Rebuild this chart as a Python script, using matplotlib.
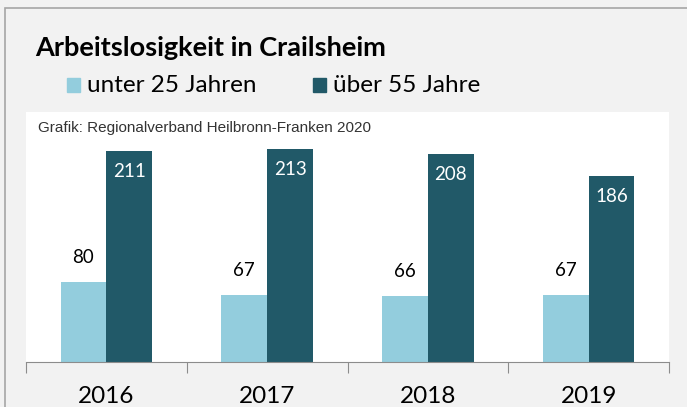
import numpy as np
import matplotlib.pyplot as plt
from matplotlib.patches import Rectangle

years = ['2016', '2017', '2018', '2019']
unter_25 = [80, 67, 66, 67]
ueber_55 = [211, 213, 208, 186]

light = '#93cddd'
dark = '#215968'
bg = '#f2f2f2'

plt.rcParams['font.family'] = ['Lato', 'DejaVu Sans']

fig = plt.figure(figsize=(6.87, 4.07), dpi=100, facecolor=bg)
ax = fig.add_axes([26/687, 1-362/407, (669-26)/687, (362-112)/407])
ax.set_facecolor('white')

# outer frame (only top/left visible in the crop)
fig.patches.append(Rectangle((5/687, -0.1), 1.2, 1-8/407+0.1, transform=fig.transFigure,
                             fill=False, edgecolor='#a6a6a6', linewidth=1.2))

x = np.arange(len(years))
w = 0.285
b1 = ax.bar(x - w/2, unter_25, w, color=light)
b2 = ax.bar(x + w/2, ueber_55, w, color=dark)

for r, v in zip(b1, unter_25):
    ax.text(r.get_x() + r.get_width()/2, v + 16, str(v), ha='center', va='bottom',
            fontsize=13.5, color='black')
for r, v in zip(b2, ueber_55):
    ax.text(r.get_x() + r.get_width()/2, v - 12, str(v), ha='center', va='top',
            fontsize=13.5, color='white')

ax.set_xlim(-0.5, 3.5)
ax.set_ylim(0, 250)
ax.set_yticks([])
for s in ['top', 'right', 'left']:
    ax.spines[s].set_visible(False)
ax.spines['bottom'].set_color('#8c8c8c')
ax.set_xticks(np.arange(-0.5, 4, 1))
ax.set_xticklabels([])
ax.tick_params(axis='x', which='major', length=8, color='#8c8c8c', direction='out')
ax.set_xticks(x, minor=True)
ax.set_xticklabels(years, minor=True, fontsize=17.5)
ax.tick_params(axis='x', which='minor', length=0, pad=17)

ax.text(38/687, 1-128/407, 'Grafik: Regionalverband Heilbronn-Franken 2020', transform=fig.transFigure,
        fontsize=11, family='Liberation Sans', color='#333333', va='center', ha='left')

fig.text(35/687, 1-48/407, 'Arbeitslosigkeit in Crailsheim', fontsize=19.5, fontweight='bold',
         va='center', ha='left')

fig.patches.append(Rectangle((67/687, 1-92/407), 13/687, 14/407, transform=fig.transFigure,
                             color=light))
fig.text(87/687, 1-85/407, 'unter 25 Jahren', fontsize=17.5, va='center', ha='left')
fig.patches.append(Rectangle((313/687, 1-92/407), 13/687, 14/407, transform=fig.transFigure,
                             color=dark))
fig.text(333/687, 1-85/407, 'über 55 Jahre', fontsize=17.5, va='center', ha='left')

fig.savefig('out.png', dpi=100, facecolor=bg)
